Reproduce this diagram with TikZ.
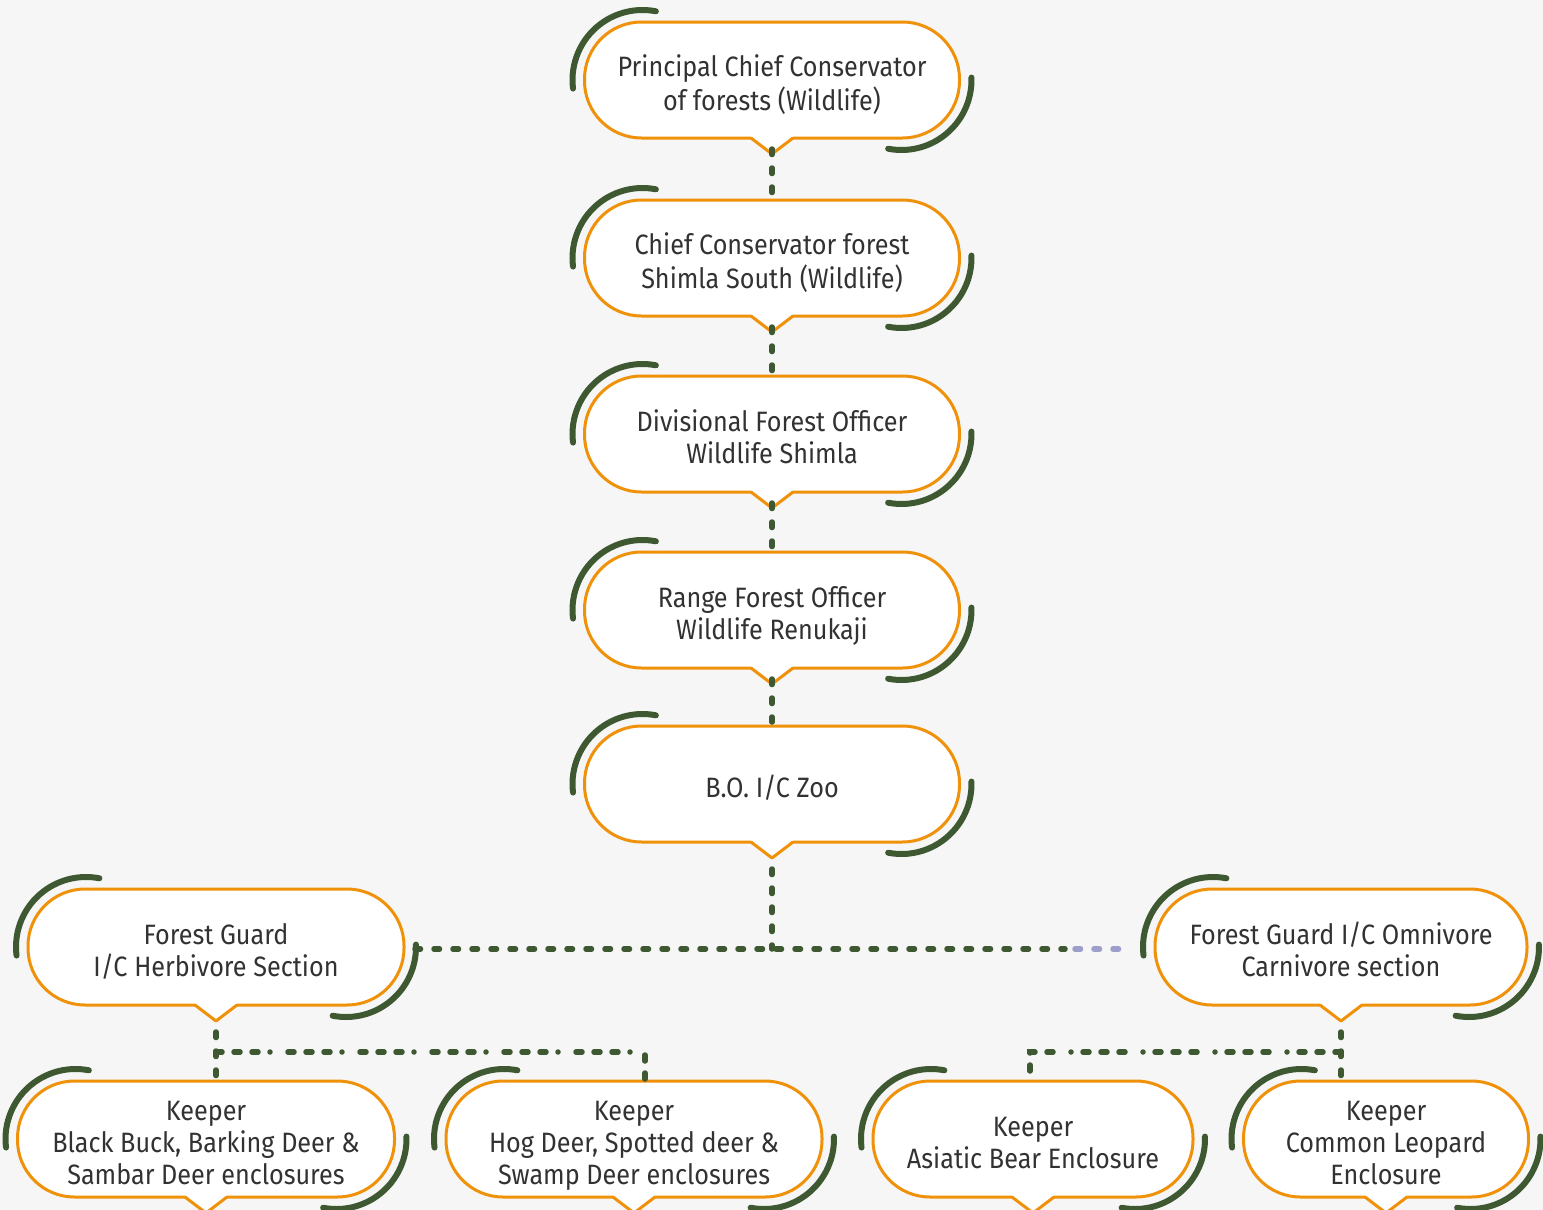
\documentclass[tikz,border=0pt]{standalone}
\usepackage{fontspec}
\newfontfamily\plex{Fira Sans}[FakeStretch=0.9]
\usetikzlibrary{calc}
\definecolor{bg}{RGB}{246,246,246}
\definecolor{bord}{RGB}{240,145,10}
\definecolor{leaf}{RGB}{62,88,50}
\definecolor{txt}{RGB}{50,50,50}
\definecolor{lav}{RGB}{158,158,204}
\newcommand\deco[1]{%
  \fill[white] ($(#1.south)+(-21,1.8)$) -- ($(#1.south)+(0,-16)$) -- ($(#1.south)+(21,1.8)$) -- cycle;
  \draw[bord, line width=3pt, line join=round] ($(#1.south)+(-21,0)$) -- ($(#1.south)+(0,-16)$) -- ($(#1.south)+(21,0)$);
  \draw[garc] ($(#1.west)+(58,0)$) ++(187:70) arc[start angle=187,end angle=79,radius=70];
  \draw[garc] ($(#1.east)+(-58,0)$) ++(2:70) arc[start angle=2,end angle=-101,radius=70];
}
\newcommand\lines[1]{\raisebox{-7pt}[\height][\depth]{\begin{tabular}{@{}c@{}}#1\end{tabular}}}
\begin{document}
\begin{tikzpicture}[x=1pt,y=1pt,
  bubble/.style={draw=bord, line width=3pt, fill=white, rounded corners=57pt,
    minimum height=116pt, inner sep=0pt, outer sep=0pt,
    font=\plex\fontsize{28}{32}\selectfont, text=txt},
  garc/.style={draw=leaf, line width=6pt, line cap=round},
  link/.style={draw=leaf, line width=5.5pt, line cap=round, dash pattern=on 5.5pt off 13.5pt},
  lavlink/.style={draw=lav, line width=5.5pt, line cap=round, dash pattern=on 5.5pt off 13.5pt},
  dlink/.style={draw=leaf, line width=5.5pt, line cap=round,
    dash pattern=on 6pt off 12pt on 6pt off 12pt on 6pt off 12pt on 0pt off 18pt}
]
\fill[bg] (0,0) rectangle (1543,-1210);
\useasboundingbox (0,0) rectangle (1543,-1210);

\node[bubble, minimum width=375pt] (n1) at (772,-80) {\lines{Principal Chief Conservator\\of forests (Wildlife)}};
\node[bubble, minimum width=375pt] (n2) at (772,-258) {\lines{Chief Conservator forest\\Shimla South (Wildlife)}};
\node[bubble, minimum width=375pt] (n3) at (772,-434) {\lines{Divisional Forest Ofﬁcer\\Wildlife Shimla}};
\node[bubble, minimum width=375pt] (n4) at (772,-610) {\lines{Range Forest Ofﬁcer\\Wildlife Renukaji}};
\node[bubble, minimum width=375pt] (n5) at (772,-784) {\lines{B.O. I/C Zoo}};
\node[bubble, minimum width=376pt] (herb) at (216,-947) {\lines{Forest Guard\\I/C Herbivore Section}};
\node[bubble, minimum width=372pt] (omni) at (1341,-947) {\lines{Forest Guard I/C Omnivore\\Carnivore section}};
\node[bubble, minimum width=377pt] (k1) at (206,-1139) {\lines{Keeper\\Black Buck, Barking Deer \&\\Sambar Deer enclosures}};
\node[bubble, minimum width=376pt] (k2) at (634,-1139) {\lines{Keeper\\Hog Deer, Spotted deer \&\\Swamp Deer enclosures}};
\node[bubble, minimum width=320pt] (k3) at (1033,-1139) {\lines{Keeper\\Asiatic Bear Enclosure}};
\node[bubble, minimum width=285pt] (k4) at (1386,-1139) {\lines{Keeper\\Common Leopard\\Enclosure}};

\foreach \n in {n1,n2,n3,n4,n5,herb,omni,k1,k2,k3,k4} {\deco{\n}}

% vertical chain
\draw[link] ($(n1.south)+(0,-11)$) -- ($(n2.north)+(0,4)$);
\draw[link] ($(n2.south)+(0,-11)$) -- ($(n3.north)+(0,4)$);
\draw[link] ($(n3.south)+(0,-11)$) -- ($(n4.north)+(0,4)$);
\draw[link] ($(n4.south)+(0,-11)$) -- ($(n5.north)+(0,4)$);
\coordinate (junc) at ($(n5.south |- herb.east)+(0,-2)$);
\draw[link] ($(n5.south)+(0,-27)$) -- (junc);
% horizontal
\coordinate (hstart) at ($(herb.east)+(11,-2)$);
\coordinate (hsplit) at ($(hstart)+(650,0)$);
\draw[link] (hstart) -- (hsplit);
\draw[lavlink] ($(hsplit)+(10,0)$) -- ($(omni.west)+(-30,-2)$);
% herbivore branch
\draw[link] ($(herb.south)+(0,-27)$) -- (herb.south |- k1.north);
\draw[dlink] ($(herb.south)+(0,-47)$) -| ($(k2.north)+(11,0)$);
% omnivore branch
\draw[link] ($(omni.south)+(0,-27)$) -- (omni.south |- k4.north);
\draw[dlink] ($(omni.south)+(0,-47)$) -| ($(k3.north)+(-3,0)$);
\end{tikzpicture}
\end{document}
